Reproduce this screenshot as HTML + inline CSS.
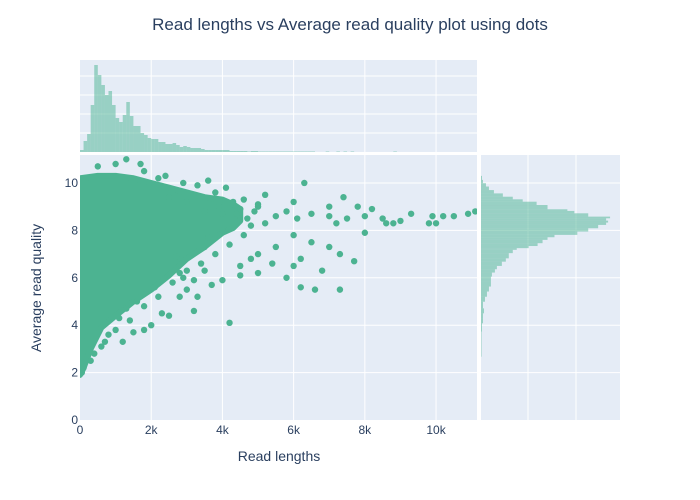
<!DOCTYPE html>
<html><head><meta charset="utf-8">
<style>body{margin:0;background:#fff}svg{display:block;font-family:"Liberation Sans",sans-serif}</style>
</head><body>
<svg id="c" width="700" height="500"></svg>
<script>
// Outlier / sparse points [length, quality]
const pointsLen=[2500,3000,3500,4000,4500,5000,5200,6000,6300,6500,7000,7200,7500,7800,8000,8200,8500,8800,9000,9900,10000,10200,10500,10900,11100,6500,7000,7300,7700,8000,6800,6000,5800,6200,5000,4500,4000,3700,3500,3200,2800,2500,2300,1800,2000,4200,3200,1500,1200,800,600,300,5000,5500,4800,6200,4000,6600,7300,2800,3000,7000,7400,9800,9300,6000,5500,8600,3300,4500,5400,1700,1300,500,2900,100,50,
4700,4900,4300,3800,3300,2200,1800,1000,4600,4200,3800,3400,3000,2600,2200,1800,1400,1000,700,400,5200,4800,3600,2700,1600,2100,1300,3900,4400,5800,6100,5000,4600,4100,3600,2400,2900,3500,1100,200];
const pointsQual=[9.4,9.2,8.8,8.7,8.9,9.1,9.5,9.2,10.0,8.7,8.6,8.3,8.5,9.0,8.6,8.9,8.5,8.3,8.4,8.6,8.3,8.6,8.6,8.7,8.8,7.5,7.3,7.0,6.7,7.9,6.3,6.5,6.0,5.6,6.2,6.1,5.9,5.7,6.3,5.9,5.2,4.4,4.5,3.8,4.0,4.1,4.6,3.7,3.3,3.6,3.1,2.5,7.0,7.3,6.8,6.8,8.0,5.5,5.5,6.2,5.5,9.0,9.4,8.3,8.7,7.8,8.6,8.3,5.2,6.5,6.6,10.8,11.0,10.7,10.0,2.2,2.0,
8.5,8.8,9.2,9.6,9.9,10.2,10.5,10.8,7.8,7.4,7.0,6.6,6.3,5.8,5.2,4.8,4.2,3.8,3.3,2.8,8.3,8.2,7.7,6.9,5.0,5.6,4.7,9.0,8.7,8.8,8.5,9.0,9.3,9.8,10.1,10.3,6.0,7.3,4.3,3.5];
// Dense cloud outline [length, quality]
const cloudLen=[0,500,1000,1500,2000,2500,3000,3500,4000,4300,4500,4500,4300,4000,3500,3000,2500,2000,1500,1000,600,300,100,0];
const cloudQual=[10.2,10.3,10.3,10.2,10.0,9.8,9.6,9.4,9.3,9.1,8.9,8.4,8.1,7.9,7.3,6.8,6.1,5.5,5.0,4.4,3.9,3.0,2.2,1.9];
// top histogram (100bp bins)
const lenCounts=[2,11,18,47,87,77,67,57,61,47,34,30,37,50,36,26,26,19,17,14,13,13,10,10,8,8,9,7,5,6,5,4,4,4,3,2,2,2,2,2,2,2,1,1,1,1,1,0.5,1,1,0.5,0.5,0.5,0.5,0.5,0.5,0.5,0.5,0.5,0.5,0.5,0.5,0.5,0.5,0.5,0.5,0,0,0,0.5,0,0,0.5,0,0.5,0,0.5,0,0,0,0,0,0,0,0,0,0,0,0.5];
// right histogram: bin lower edges (quality) and counts
const qualEdges=[2.67,3.73,4.08,4.29,4.50,4.71,4.99,5.20,5.42,5.63,5.84,6.05,6.22,6.36,6.50,6.68,6.82,7.04,7.18,7.25,7.34,7.46,7.60,7.71,7.81,7.95,8.09,8.23,8.33,8.41,8.51,8.58,8.72,8.82,8.89,9.07,9.21,9.31,9.42,9.56,9.70,9.85,9.99,10.13,10.3];
const qualCounts=[0.5,1,2,2,3,2,4,6,8,10,10,11,14,16,21,25,28,32,36,48,57,62,67,74,97,108,118,126,128,126,130,108,94,87,67,56,42,32,22,13,8,5,2,1];
const xTicks=[0,2000,4000,6000,8000,10000];
const xTickLabels=["0","2k","4k","6k","8k","10k"];
const yTicks=[0,2,4,6,8,10];

const NS="http://www.w3.org/2000/svg",svg=document.getElementById('c');
function el(t,a,p){const e=document.createElementNS(NS,t);for(const k in a)e.setAttribute(k,a[k]);(p||svg).appendChild(e);return e;}
const X0=80,X1=477,Y0=420,Y1=155;
const xs=v=>X0+v*(X1-X0)/11150, ys=v=>Y0-v*(Y0-Y1)/11.18;
const TB=152,TT=60, ts=v=>TB-v*(TB-TT)/92;
const RL=481,RR=620, rs=v=>RL+v*(RR-RL)/140;
const C="#4cb391";
let b;
b=el('rect',{x:X0,y:Y1,width:X1-X0,height:Y0-Y1,fill:'#e5ecf6'});
b=el('rect',{x:X0,y:TT,width:X1-X0,height:TB-TT,fill:'#e5ecf6'});
b=el('rect',{x:480,y:Y1,width:RR-480,height:Y0-Y1,fill:'#e5ecf6'});
xTicks.forEach((t,i)=>{if(t>0){const x=xs(t);el('line',{x1:x,x2:x,y1:Y1,y2:Y0,stroke:'#fff','stroke-width':1});el('line',{x1:x,x2:x,y1:TT,y2:TB,stroke:'#fff','stroke-width':1});}
 const l=el('text',{x:xs(t),y:434,'text-anchor':'middle','font-size':12,fill:'#2a3f5f'});l.textContent=xTickLabels[i];});
yTicks.forEach(t=>{const y=ys(t);if(t>0){el('line',{x1:X0,x2:X1,y1:y,y2:y,stroke:'#fff','stroke-width':1});el('line',{x1:480,x2:RR,y1:y,y2:y,stroke:'#fff','stroke-width':1});}
 const l=el('text',{x:78,y:y+4,'text-anchor':'end','font-size':12,fill:'#2a3f5f'});l.textContent=t;});
[1,2,3,4].forEach(k=>{const y=TB-19*k;el('line',{x1:X0,x2:X1,y1:y,y2:y,stroke:'#fff','stroke-width':1});});
[1,2].forEach(k=>{const x=480+48*k;el('line',{x1:x,x2:x,y1:Y1,y2:Y0,stroke:'#fff','stroke-width':1});});
el('line',{x1:480.5,x2:480.5,y1:Y1,y2:Y0,stroke:'#fff','stroke-width':1});
const gT=el('g',{fill:C,'fill-opacity':0.5});
lenCounts.forEach((c,i)=>{if(c<=0)return;const r=el('rect',{x:xs(i*100),width:xs((i+1)*100)-xs(i*100),y:ts(c),height:TB-ts(c)},gT);});
const gR=el('g',{fill:C,'fill-opacity':0.5});
qualCounts.forEach((c,i)=>{const y1=ys(qualEdges[i+1]),y2=ys(qualEdges[i]);const r=el('rect',{x:RL,y:y1,width:rs(c)-RL,height:y2-y1},gR);});
const clip=el('clipPath',{id:'cp'});el('rect',{x:X0,y:Y1,width:X1-X0,height:Y0-Y1},clip);
const gS=el('g',{'clip-path':'url(#cp)',fill:C});
const cl=el('polygon',{points:cloudLen.map((v,i)=>xs(v)+','+ys(cloudQual[i])).join(' '),fill:C,stroke:C,'stroke-width':6,'stroke-linejoin':'round'},gS);

pointsLen.forEach((v,i)=>{const p=el('circle',{cx:xs(v),cy:ys(pointsQual[i]),r:3.2},gS);});
let t=el('text',{x:350,y:30,'text-anchor':'middle','font-size':17,fill:'#2a3f5f'});t.textContent='Read lengths vs Average read quality plot using dots';
t=el('text',{x:279,y:461,'text-anchor':'middle','font-size':14,fill:'#2a3f5f'});t.textContent='Read lengths';
t=el('text',{x:41,y:288,'text-anchor':'middle','font-size':14,fill:'#2a3f5f',transform:'rotate(-90 41 288)'});t.textContent='Average read quality';
</script>
</body></html>
